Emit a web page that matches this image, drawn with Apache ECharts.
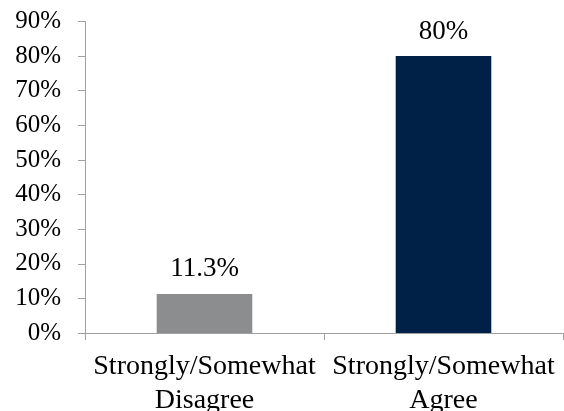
<!DOCTYPE html>
<html><head><meta charset="utf-8">
<script src="https://cdn.jsdelivr.net/npm/echarts@6/dist/echarts.min.js"></script>
<style>html,body{margin:0;padding:0;background:#fff}#c{width:564px;height:411px}</style>
</head><body><div id="c"></div>
<script>
const categories = ['Strongly/Somewhat\nDisagree', 'Strongly/Somewhat\nAgree'];
const values = [11.3, 80];
const valueLabels = ['11.3%', '80%'];
const barColors = ['#8b8d8f', '#002147'];
const yTicks = {min: 0, max: 90, interval: 10};

const font = '"Liberation Serif", "Times New Roman", serif';
const chart = echarts.init(document.getElementById('c'), null, {renderer: 'canvas'});
chart.setOption({
  animation: false,
  grid: {left: 85, right: 1, top: 21.5, bottom: 78, containLabel: false, outerBoundsMode: 'none'},
  xAxis: {
    type: 'category', data: categories,
    axisLine: {lineStyle: {color: '#a0a0a0', width: 1}},
    axisTick: {show: true, length: 7, alignWithLabel: false, lineStyle: {color: '#a0a0a0'}},
    axisLabel: {color: '#000', fontFamily: font, fontSize: 28, lineHeight: 34, margin: 17, interval: 0}
  },
  yAxis: {
    type: 'value', min: yTicks.min, max: yTicks.max, interval: yTicks.interval,
    axisLine: {show: true, lineStyle: {color: '#a0a0a0', width: 1}},
    axisTick: {show: true, length: 7, lineStyle: {color: '#a0a0a0'}},
    splitLine: {show: false},
    axisLabel: {color: '#000', fontFamily: font, fontSize: 25, margin: 24, formatter: '{value}%'}
  },
  series: [{
    type: 'bar', barWidth: '40%',
    data: values.map((v, i) => ({value: v, itemStyle: {color: barColors[i]}})),
    label: {show: true, position: 'top', distance: 11, color: '#000', fontFamily: font, fontSize: 27,
      formatter: p => valueLabels[p.dataIndex]}
  }]
});
</script></body></html>
